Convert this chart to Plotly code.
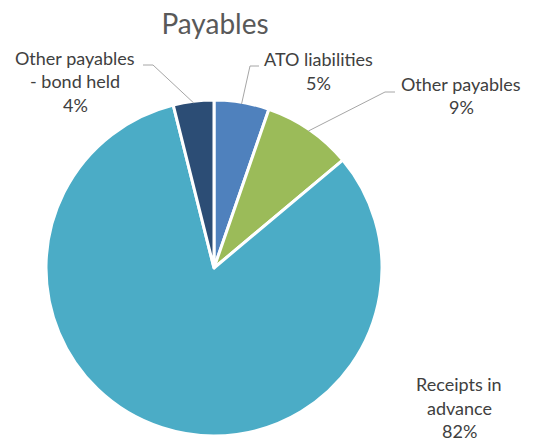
import math
import plotly.graph_objects as go

labels = ["ATO liabilities", "Other payables", "Receipts in advance", "Other payables - bond held"]
label_lines = [["ATO liabilities", "5%"], ["Other payables", "9%"],
               ["Receipts in", "advance", "82%"], ["Other payables", "- bond held", "4%"]]
values = [5.3, 8.6, 82.2, 3.9]
colors = ["#4F81BD", "#9BBB59", "#4BACC6", "#2C4D75"]

W, H = 539, 441
cx, cy, R = 214, 268, 168

def px(x):
    return x / W

def py(y):
    return 1 - y / H

fig = go.Figure(go.Pie(
    labels=labels, values=values, sort=False, direction="clockwise", rotation=0,
    marker=dict(colors=colors, line=dict(color="white", width=3)),
    textinfo="none", hoverinfo="label+percent", showlegend=False,
    domain=dict(x=[px(cx - R), px(cx + R)], y=[py(cy + R), py(cy - R)]),
))

# label centre x and first-line y (pixels), line step, leader-line elbows
label_pos = [(318, 59), (461, 84), (459, 384), (75, 58)]
step = 23.5
elbows = [((250, 66), (259, 66)), ((385, 92), (395, 92)), None, ((153, 65), (143, 65))]

total = sum(values)
cum = 0
shapes = []
annotations = []
for i, v in enumerate(values):
    mid = (cum + v / 2) / total * 2 * math.pi
    cum += v
    x0 = cx + R * math.sin(mid) * 0.99
    y0 = cy - R * math.cos(mid) * 0.99
    lx, ly = label_pos[i]
    for j, line in enumerate(label_lines[i]):
        annotations.append(dict(
            x=px(lx), y=py(ly + j * step), xref="paper", yref="paper", text=line,
            showarrow=False, xanchor="center", yanchor="middle", align="center",
            font=dict(family="Lato, Open Sans, sans-serif", size=18, color="#404040"),
        ))
    if elbows[i]:
        (ex, ey), (hx, hy) = elbows[i]
        pts = [(x0, y0), (ex, ey), (hx, hy)]
        path = "M " + " L ".join(f"{px(a)},{py(b)}" for a, b in pts)
        shapes.append(dict(type="path", xref="paper", yref="paper", path=path,
                           line=dict(color="#A6A6A6", width=1)))

fig.update_layout(
    width=W, height=H, margin=dict(l=0, r=0, t=0, b=0),
    paper_bgcolor="white", plot_bgcolor="white",
    title=dict(text="Payables", x=px(215), y=py(24), xanchor="center", yanchor="middle",
               font=dict(family="Lato, Open Sans, sans-serif", size=28, color="#595959")),
    shapes=shapes, annotations=annotations,
)

fig.write_html("out.html")
